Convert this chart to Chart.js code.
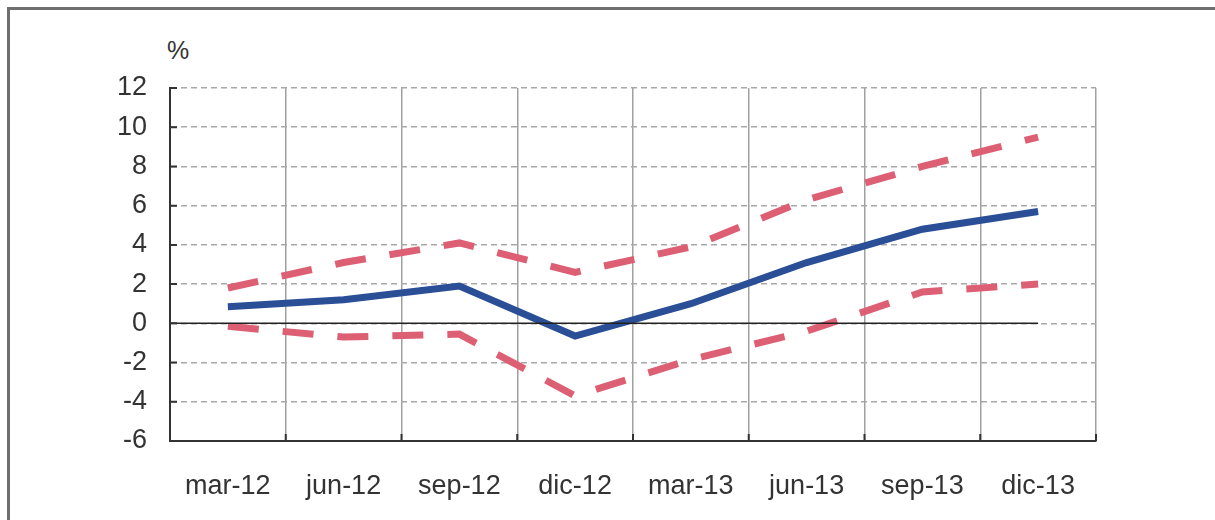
<!DOCTYPE html>
<html>
<head>
<meta charset="utf-8">
<script src="https://cdn.jsdelivr.net/npm/chart.js@4.4.1/dist/chart.umd.min.js"></script>
<style>
  body { margin: 0; background: #fff; }
  #wrap { position: relative; width: 1215px; height: 520px; overflow: hidden; font-family: "Liberation Sans", Arial, sans-serif; }
  #frame { position: absolute; left: 7px; top: 7px; width: 1300px; height: 600px; border-left: 3px solid #6f6f6f; border-top: 3px solid #6f6f6f; }
  #unit { position: absolute; left: 167px; top: 36px; font-size: 25px; color: #333; }
  canvas { position: absolute; left: 0; top: 0; }
</style>
</head>
<body>
<div id="wrap">
  <div id="frame"></div>
  <div id="unit">%</div>
  <canvas id="chart" width="1215" height="520"></canvas>
</div>
<script>
// quarters on the x axis
const quarters = ['mar-12', 'jun-12', 'sep-12', 'dic-12', 'mar-13', 'jun-13', 'sep-13', 'dic-13'];
// central projection (%)
const central = [0.85, 1.2, 1.9, -0.65, 1.0, 3.1, 4.8, 5.7];
// upper and lower bands (%)
const upper = [1.8, 3.1, 4.1, 2.6, 3.9, 6.3, 8.0, 9.5];
const lower = [-0.15, -0.7, -0.55, -3.7, -1.85, -0.4, 1.6, 2.0];
// y axis ticks
const yTicks = [-6, -4, -2, 0, 2, 4, 6, 8, 10, 12];

// black zero line from the y axis to the last quarter, solid left axis, inner tick marks
const axisExtras = {
    id: 'axisExtras',
    afterDatasetsDraw(chart) {
        const { ctx, chartArea, scales } = chart;
        const x = scales.x, y = scales.y;
        ctx.save();
        ctx.setLineDash([]);
        ctx.strokeStyle = '#222';
        ctx.lineWidth = 1.5;
        const y0 = y.getPixelForValue(0);
        ctx.beginPath();
        ctx.moveTo(chartArea.left, y0);
        ctx.lineTo(x.getPixelForValue(quarters.length - 1), y0);
        ctx.stroke();

        ctx.strokeStyle = '#333';
        ctx.lineWidth = 2;
        ctx.beginPath();
        ctx.moveTo(chartArea.left, chartArea.top);
        ctx.lineTo(chartArea.left, chartArea.bottom);
        yTicks.forEach(v => {
            const py = y.getPixelForValue(v);
            ctx.moveTo(chartArea.left, py);
            ctx.lineTo(chartArea.left + 7, py);
        });
        for (let i = 1; i < quarters.length; i++) {
            const px = (x.getPixelForValue(i - 1) + x.getPixelForValue(i)) / 2;
            ctx.moveTo(px, chartArea.bottom);
            ctx.lineTo(px, chartArea.bottom - 7);
        }
        ctx.moveTo(chartArea.right, chartArea.bottom);
        ctx.lineTo(chartArea.right, chartArea.bottom - 7);
        ctx.stroke();
        ctx.restore();
    }
};

const ctx = document.getElementById('chart').getContext('2d');
new Chart(ctx, {
    type: 'line',
    data: {
        labels: quarters,
        datasets: [
            { data: central, borderColor: '#2a4f97', borderWidth: 7, pointRadius: 0, tension: 0, order: 1 },
            { data: upper, borderColor: '#dc5f73', borderWidth: 7, borderDash: [31, 24], pointRadius: 0, tension: 0, order: 2 },
            { data: lower, borderColor: '#dc5f73', borderWidth: 7, borderDash: [31, 24], pointRadius: 0, tension: 0, order: 2 }
        ]
    },
    options: {
        responsive: false,
        animation: false,
        layout: { padding: { left: 0, top: 88, right: 119, bottom: 0 } },
        plugins: { legend: { display: false }, tooltip: { enabled: false } },
        scales: {
            x: {
                offset: true,
                grid: { offset: true, color: '#a0a0a0', lineWidth: 1.5, drawTicks: false },
                border: { color: '#333', width: 2 },
                ticks: { color: '#333', font: { family: 'Liberation Sans', size: 27 }, padding: 29, maxRotation: 0 },
                afterFit(scale) { scale.height = 79; }
            },
            y: {
                min: -6,
                max: 12,
                afterBuildTicks(scale) { scale.ticks = yTicks.map(v => ({ value: v })); },
                grid: { color: '#a8a8a8', lineWidth: 1.5, drawTicks: false },
                border: { color: '#333', width: 2, dash: [6, 4] },
                ticks: { color: '#333', font: { family: 'Liberation Sans', size: 27 }, padding: 23 },
                afterFit(scale) { scale.width = 170; }
            }
        }
    },
    plugins: [axisExtras]
});
</script>
</body>
</html>
